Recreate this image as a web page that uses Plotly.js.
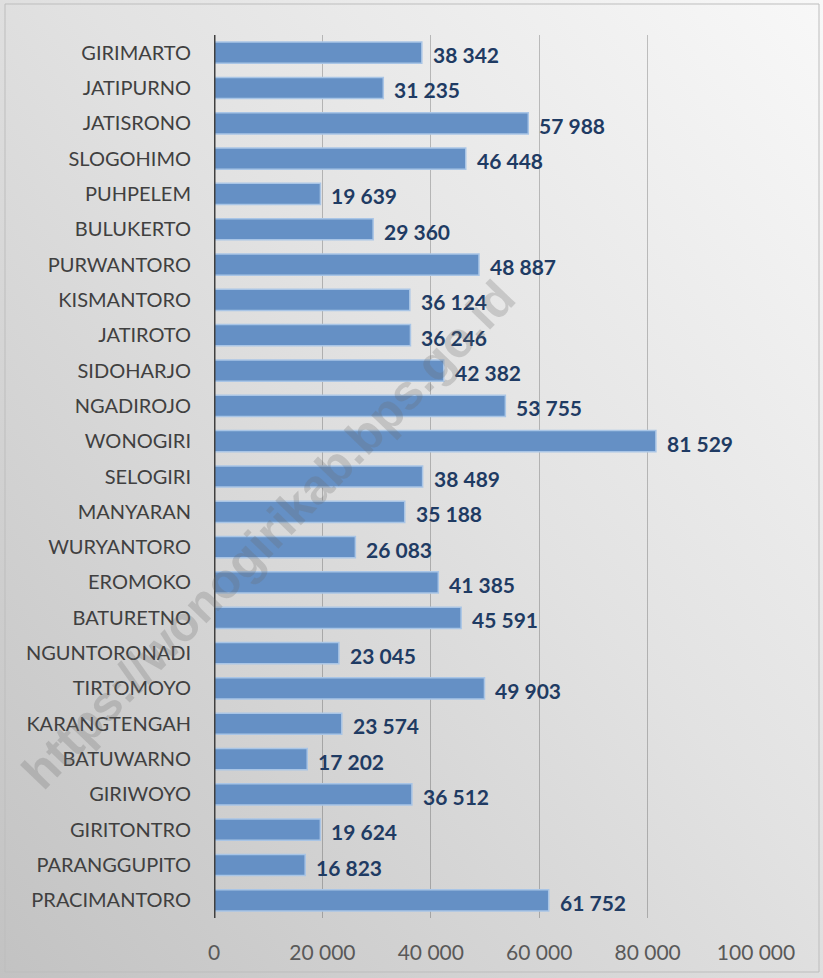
<!DOCTYPE html>
<html><head><meta charset="utf-8">
<script src="https://cdn.plot.ly/plotly-3.0.1.min.js"></script>
<style>html,body{margin:0;padding:0;}#chart{width:823px;height:978px;}</style>
</head><body><div id="chart"></div>
<script>
var categories = ["GIRIMARTO","JATIPURNO","JATISRONO","SLOGOHIMO","PUHPELEM","BULUKERTO","PURWANTORO","KISMANTORO","JATIROTO","SIDOHARJO","NGADIROJO","WONOGIRI","SELOGIRI","MANYARAN","WURYANTORO","EROMOKO","BATURETNO","NGUNTORONADI","TIRTOMOYO","KARANGTENGAH","BATUWARNO","GIRIWOYO","GIRITONTRO","PARANGGUPITO","PRACIMANTORO"];
var values = [38342,31235,57988,46448,19639,29360,48887,36124,36246,42382,53755,81529,38489,35188,26083,41385,45591,23045,49903,23574,17202,36512,19624,16823,61752];
var tickValues = [0,20000,40000,60000,80000,100000];
var tickLabels = ["0","20 000","40 000","60 000","80 000","100 000"];
var watermark = "https://wonogirikab.bps.go.id";

function fmt(v){ return String(v).replace(/\B(?=(\d{3})+(?!\d))/g, " "); }

var W=823,H=978,L=214,R=67,T=35,B=60;
var pw=W-L-R, ph=H-T-B;

var trace = {
  type:'bar', orientation:'h', x: values, y: categories,
  marker:{color:'#6590c5', line:{color:'#a9c5e6', width:1.5}},
  hoverinfo:'none'
};

var annotations = values.map(function(v,i){
  return {x:v, y:categories[i], xref:'x', yref:'y', text:fmt(v), showarrow:false,
    xanchor:'left', xshift:9, yshift:-2,
    font:{family:'Lato, "Open Sans", sans-serif', size:21, color:'#1f3b63', weight:'bold'}};
});
annotations.push({xref:'paper', yref:'paper', x:(268-L)/pw, y:1-(535-T)/ph, xanchor:'center', yanchor:'middle', text:watermark,
  showarrow:false, textangle:-46, font:{family:'"Liberation Sans", Arial, sans-serif', size:49, color:'rgba(110,110,110,0.26)', weight:'bold'}});

var svg = '<svg xmlns="http://www.w3.org/2000/svg" width="823" height="978"><defs><linearGradient id="g" x1="1" y1="0" x2="0" y2="1"><stop offset="0" stop-color="#f8f8f8"/><stop offset="0.45" stop-color="#e2e2e2"/><stop offset="1" stop-color="#c2c2c2"/></linearGradient></defs><rect width="823" height="978" fill="url(#g)"/></svg>';

var layout = {
  width:W, height:H,
  margin:{l:L, r:R, t:T, b:B, pad:0},
  paper_bgcolor:'#e0e0e0', plot_bgcolor:'rgba(0,0,0,0)',
  showlegend:false, bargap:0.4,
  xaxis:{range:[0,100000], tickvals:tickValues, ticktext:tickLabels, showgrid:true,
    gridcolor:'rgba(0,0,0,0.22)', gridwidth:1, zeroline:false, showline:false, ticks:'',
    tickfont:{family:'Lato, "Open Sans", sans-serif', size:21, color:'#595959'}, ticklabelstandoff:20, fixedrange:true},
  yaxis:{categoryorder:'array', categoryarray:categories.slice().reverse(), autorange:false,
    range:[-0.5, categories.length-0.5], showgrid:false, zeroline:false, showline:false, ticks:'',
    tickfont:{family:'Lato, "Open Sans", sans-serif', size:20, color:'#404040'}, ticklabelstandoff:22, fixedrange:true},
  annotations:annotations,
  images:[{source:'data:image/svg+xml;charset=utf-8,'+encodeURIComponent(svg), xref:'paper', yref:'paper',
    x:-L/pw, y:1+T/ph, sizex:W/pw, sizey:H/ph, sizing:'stretch', xanchor:'left', yanchor:'top', layer:'below'}],
  shapes:[
    {type:'line', xref:'x', yref:'paper', x0:0, x1:0, y0:0, y1:1, line:{color:'#404040', width:3}},
    {type:'rect', xref:'paper', yref:'paper', x0:(5-L)/pw, x1:(819-L)/pw, y0:1-(972-T)/ph, y1:1-(4-T)/ph, line:{color:'#bdbdbd', width:1}, layer:'above'}
  ]
};
Plotly.newPlot('chart',[trace],layout,{displayModeBar:false, staticPlot:true});
</script></body></html>
